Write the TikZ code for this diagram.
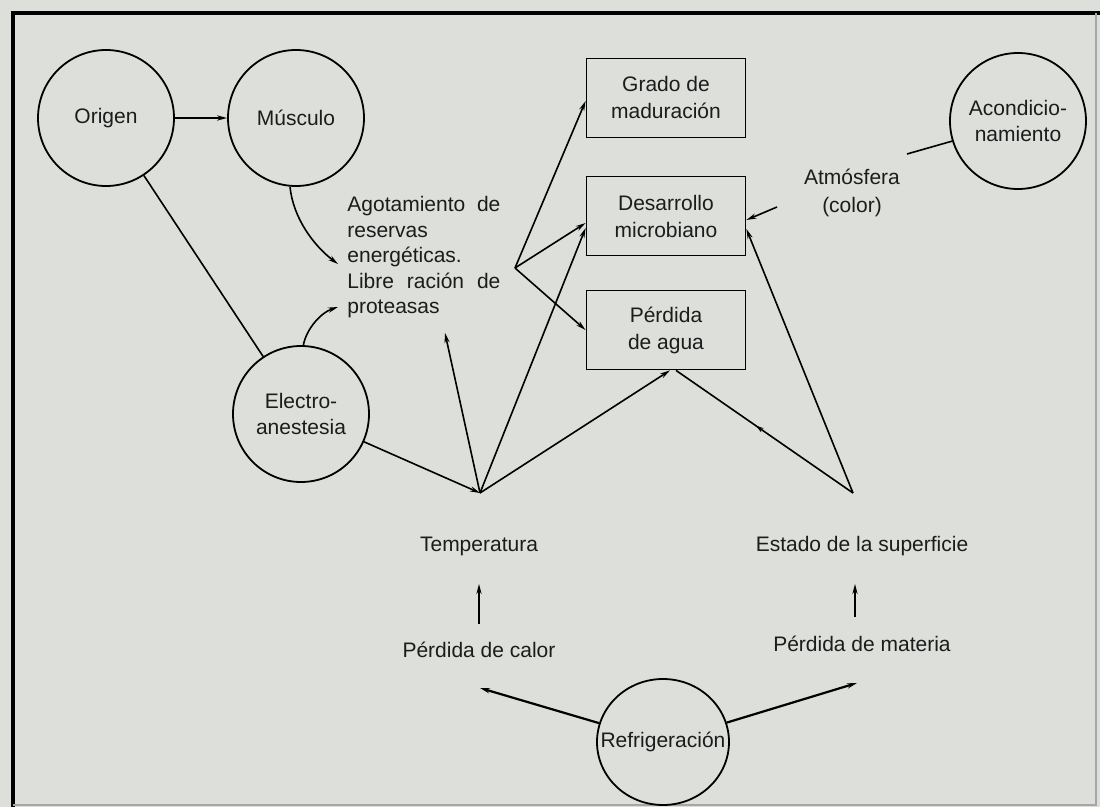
\documentclass[tikz,border=0pt]{standalone}
\usepackage{fontspec}
\setmainfont{Liberation Sans}
\usetikzlibrary{arrows.meta,shapes.geometric,decorations.markings}
\definecolor{paper}{RGB}{221,223,219}
\definecolor{ink}{RGB}{28,28,28}
\begin{document}
\begin{tikzpicture}[x=0.5pt,y=-0.5pt,
    font=\fontsize{10.5}{13}\selectfont, text=ink,
    ring/.style={draw,circle,line width=0.9pt,minimum size=68pt,inner sep=0pt,align=center},
    panel/.style={draw,rectangle,line width=0.9pt,minimum width=79.5pt,minimum height=39.5pt,inner sep=0pt,align=center,font=\fontsize{10.5}{13.5}\selectfont},
    lbl/.style={inner sep=0pt,align=center},
    arr/.style={-{Stealth[length=5pt,width=2.6pt]},line width=0.8pt},
    lin/.style={line width=0.8pt},
    midarr/.style={decoration={markings,mark=at position 0.55 with {\arrow{Stealth[length=4pt,width=2.4pt]}}},postaction={decorate}}]

      \useasboundingbox (0,0) rectangle (1100,807);

      % Paper and frame
      \fill[paper] (0,0) rectangle (1100,807);
      \draw[line width=2pt] (13,807) -- (13,13) -- (1100,13);
      \draw[gray!70,line width=0.6pt] (1096,13) -- (1096,805) -- (13,805);

      % Circles
      \node[ring] (origen) at (106,118) {Origen};
      \node[ring] (musculo) at (296,118) {Músculo};
      \node[ring] (electro) at (301,414) {Electro-\\anestesia};
      \node[ring] (acond) at (1018,121) {Acondicio-\\namiento};
      \node[ring,ellipse,minimum width=66pt,minimum height=63pt,label=center:Refrigeración] (refri) at (663,742) {};

      % Boxes
      \node[panel] (grado) at (666,98) {Grado de\\maduración};
      \node[panel] (desarrollo) at (666,216) {Desarrollo\\microbiano};
      \node[panel] (perdida) at (666,330) {Pérdida\\de agua};

      % Labels
      \node[lbl,text width=76.5pt,align=left,anchor=north west,font=\fontsize{10.5}{12.75}\selectfont] (agota) at (347,196)
        {Agotamiento\hfill de\\reservas\\energéticas.\\Libre\hfill ración\hfill de\\proteasas};
      \node[lbl,font=\fontsize{10.5}{14}\selectfont] (atmos) at (852,193) {Atmósfera\\(color)};
      \node[lbl] (temp) at (479,546) {Temperatura};
      \node[lbl] (estado) at (862,546) {Estado de la superficie};
      \node[lbl] (calor) at (479,650) {Pérdida de calor};
      \node[lbl] (materia) at (862,644) {Pérdida de materia};

      % Meeting points and free ends
      \coordinate (tv) at (480,493);
      \coordinate (ev) at (853,493);
      \coordinate (fork) at (515,268);
      \coordinate (agdown) at (338,264);
      \coordinate (agup) at (338,307);
      \coordinate (agtemp) at (445,333);
      \coordinate (atmtail) at (777,207);
      \coordinate (acondtail) at (907,154);
      \coordinate (caltip) at (480,688);
      \coordinate (mattip) at (857,683);

      % Upper part
      \draw[arr,line width=1.1pt] (origen) -- (musculo);
      \draw[lin] (origen) -- (electro);
      \draw[arr] (musculo.-95) .. controls (293,218) and (314,246) .. (agdown);
      \draw[arr] (electro.88) .. controls (306,330) and (320,313) .. (agup);
      \draw[arr] (fork) -- ([yshift=-1.5pt]grado.west);
      \draw[arr] (fork) -- ([yshift=-3.5pt]desarrollo.west);
      \draw[arr] (fork) -- (perdida.west);
      \draw[arr] (atmtail) -- ([yshift=-2pt]desarrollo.east);
      \draw[lin] (acond.197) -- (acondtail);

      % Temperatura
      \draw[arr] (electro) -- (tv);
      \draw[arr] (tv) -- (agtemp);
      \draw[arr] (tv) -- ([yshift=-6pt]desarrollo.west);
      \draw[arr] (tv) -- ([xshift=2pt]perdida.south);
      \draw[arr,shorten <=13pt,shorten >=19pt] (calor.center) -- (temp.center);

      % Estado de la superficie
      \draw[arr] (ev) -- ([yshift=-6.5pt]desarrollo.east);
      \draw[lin,midarr] (ev) -- ([xshift=5pt]perdida.south);
      \draw[arr,shorten <=13.5pt,shorten >=19pt] ([xshift=-3.5pt]materia.center) -- ([xshift=-3.5pt]estado.center);

      % Refrigeracion
      \draw[arr,line width=1.1pt] (refri) -- (caltip);
      \draw[arr,line width=1.1pt] (refri) -- (mattip);

    \end{tikzpicture}
\end{document}
